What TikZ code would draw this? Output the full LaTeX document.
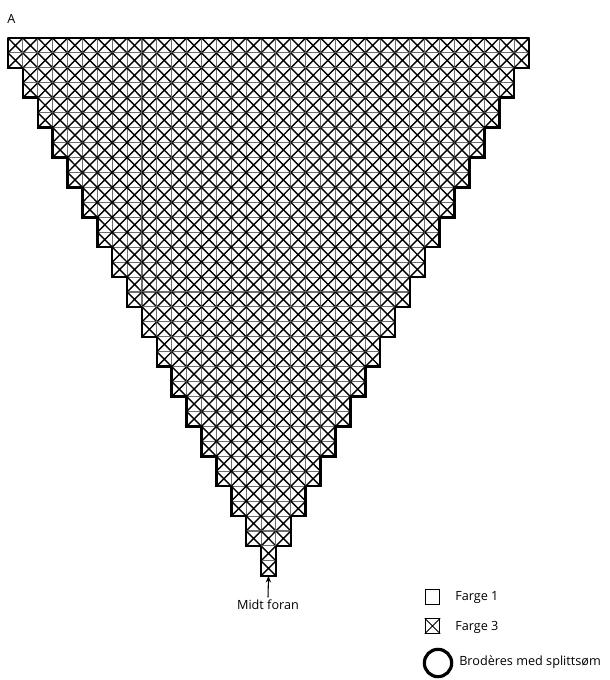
\documentclass[tikz,border=0pt]{standalone}
\usepackage{fontspec}
\setmainfont{Open Sans}
\usetikzlibrary{arrows.meta}
\definecolor{gridgray}{HTML}{6E6E6E}
\tikzset{
  cell/.style={gridgray,line width=0.8pt},
  cross/.style={black,line width=1.05pt},
  rim/.style={black,line width=1.9pt,line cap=square},
  lbl/.style={font=\fontsize{9.5}{11}\selectfont,inner sep=0pt},
  keybox/.style={draw,line width=0.7pt,minimum size=10.9pt,inner sep=0pt}
}
\newcommand{\cw}{14.886}
\newcommand{\ch}{14.94}

\begin{document}
\begin{tikzpicture}[>=Stealth,x=0.75pt,y=-0.75pt]
  \useasboundingbox (0,0) rectangle (609,680);
  \node[lbl,anchor=base west] (title) at (7,24) {A};
  \foreach \r in {0,...,35}{
    \pgfmathtruncatemacro\k{\r/2}
    \pgfmathtruncatemacro\m{34-\k}
    \foreach \c in {\k,...,\m}{
      \draw[cell] ({8+\c*\cw},{38+\r*\ch}) rectangle ++(\cw,\ch);
      \draw[cross] ({8+\c*\cw},{38+\r*\ch}) -- ++(\cw,\ch) ++(-\cw,0) -- ++(\cw,-\ch);
    }
  }
  \draw[rim] (8,38) -- ({8+35*\cw},38);
  \foreach \k in {0,...,17}{
    \draw[rim] ({8+\k*\cw},{38+2*\k*\ch}) -- ++(0,2*\ch) -- ++(\cw,0);
    \draw[rim] ({8+(35-\k)*\cw},{38+2*\k*\ch}) -- ++(0,2*\ch) -- ++(-\cw,0);
  }
  \coordinate (tip) at ({8+17.5*\cw},{38+36*\ch});
  \node[lbl,anchor=north] (front) at (268,600) {Midt foran};
  \draw[-{Stealth[length=5pt,width=4pt]},line width=0.8pt] ([yshift=2pt]front.north) -- (tip);
  \node[keybox] (c1) at (432.5,597) {};
  \node[keybox] (c3) at (432.5,626) {};
  \draw[line width=0.7pt] (c3.north west) -- (c3.south east) (c3.north east) -- (c3.south west);
  \node[lbl,anchor=west] (f1) at (455,597) {Farge 1};
  \node[lbl,anchor=west] (f3) at (455,627) {Farge 3};
  \node[circle,draw,line width=2.4pt,minimum size=20.5pt,inner sep=0pt] (ring) at (438,663) {};
  \node[lbl,anchor=west] (split) at (459,662) {Brodères med splittsøm};
\end{tikzpicture}
\end{document}
